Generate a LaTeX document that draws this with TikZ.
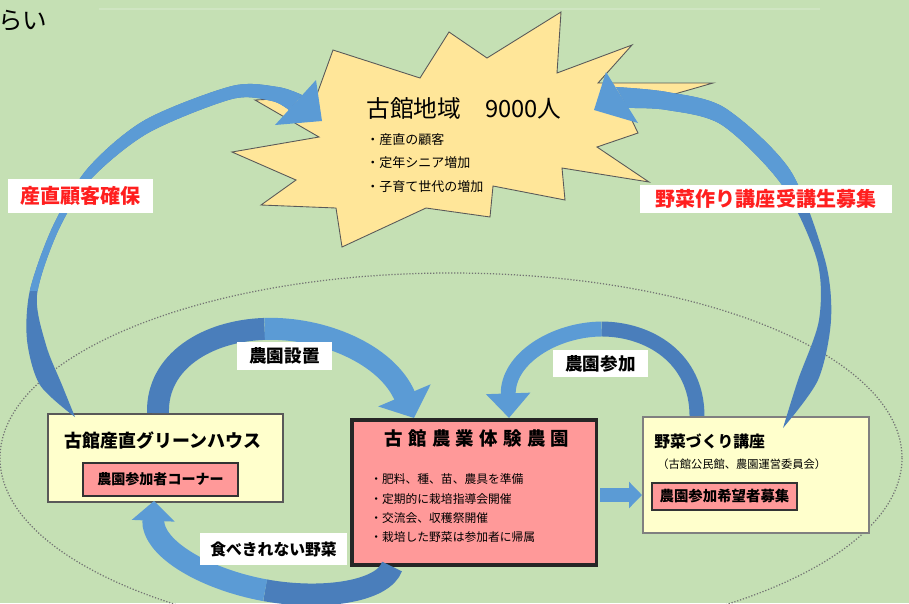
\documentclass[tikz,border=0pt]{standalone}
\usepackage{fontspec}
\setmainfont{Noto Sans CJK JP}
\usetikzlibrary{arrows.meta,calc}
\definecolor{bg}{HTML}{C5E0B4}
\definecolor{starfill}{HTML}{FFE699}
\definecolor{arrl}{HTML}{5B9BD5}
\definecolor{arrd}{HTML}{4A7EBB}
\definecolor{boxy}{HTML}{FFFFCC}
\definecolor{boxr}{HTML}{FF9999}
\definecolor{lblred}{HTML}{FF1F1F}
\newcommand\leftarcshape[1]{\fill[#1] plot[smooth] coordinates {(302,95) (278,87) (232,86) (145,120) (88,168) (53,226) (30,290) (27,340) (40,385) (75,417)} -- plot[smooth] coordinates {(75,417) (62,385) (46,345) (37,295) (58,231) (90,180) (148,133) (232,99) (272,101) (289,110)} -- cycle;}
\newcommand\rightarcshape[1]{\fill[#1] plot[smooth] coordinates {(616,87) (667,92) (725,108) (790,170) (825,260) (831,320) (818,380) (783,428)} -- plot[smooth] coordinates {(783,428) (798,380) (819,320) (817,260) (782,185) (722,125) (667,110) (628,108)} -- cycle;}
\newcommand\fs[1]{\fontsize{#1}{#1}\selectfont}
\begin{document}
\begin{tikzpicture}[x=0.02cm,y=-0.02cm,
  ybox/.style={draw=black!65, line width=1.1pt, fill=boxy, inner sep=0pt, anchor=north west},
  rbox/.style={draw=black!80, line width=1.1pt, fill=boxr, inner sep=0pt},
  lbl/.style={fill=white, inner sep=0pt},
  txt/.style={inner sep=0pt},
]
\useasboundingbox (0,0) rectangle (909,603);
\fill[bg] (0,0) rectangle (909,603);
\clip (0,0) rectangle (909,603);
\draw[bg!82!white, line width=0.6pt] (99,9) -- (820,9);
\node[txt, anchor=west, font=\fs{14}] (rai) at (-2,21) {らい};

% outer dotted ellipse
\draw[black!55, densely dotted, line width=0.7pt] (451,458) ellipse [x radius=451, y radius=185];

% starburst
\draw[draw=black!65, line width=0.5pt, fill=starfill, line join=miter]
 (561,12) -- (557,73) -- (632,45) -- (598,83) -- (713,83) -- (626,108) -- (638,133) -- (597,147) -- (649,182) -- (562,168) -- (565,200) -- (493,186) -- (490,217) -- (426,208) -- (342,247) -- (336,208) -- (261,205) -- (296,180) -- (232,152) -- (319,137) -- (255,100) -- (316,97) -- (333,50) -- (420,78) -- (449,32) -- (487,58) -- cycle;
\node[txt, font=\fs{13.5}] (sttl) at (464,108) {古館地域　9000人};
\node[txt, anchor=west, font=\fs{7.4}] (sb1) at (366,140) {・産直の顧客};
\node[txt, anchor=west, font=\fs{7.4}] (sb2) at (366,163) {・定年シニア増加};
\node[txt, anchor=west, font=\fs{7.4}] (sb3) at (366,187) {・子育て世代の増加};

% left box
\node[ybox, minimum width=4.7cm, minimum height=1.76cm] (gh) at (47,413) {};
\node[txt, font=\fs{10.2}\bfseries] (ghT) at (163,441) {古館産直グリーンハウス};
\node[rbox, minimum width=3.1cm, minimum height=0.66cm, font=\fs{8}\bfseries] (ghC) at (160.5,479.5) {農園参加者コーナー};

% center box
\node[draw=black!85, line width=2pt, fill=boxr, minimum width=4.9cm, minimum height=2.9cm, anchor=north west, inner sep=0pt] (farm) at (350,418) {};
\node[txt, font=\fs{10.5}\bfseries] (farmT) at (477,438) {古\hspace{3pt}館\hspace{3pt}農\hspace{3pt}業\hspace{3pt}体\hspace{3pt}験\hspace{3pt}農\hspace{3pt}園};
\node[txt, anchor=west, font=\fs{6.7}] (fb1) at (370,479) {・肥料、種、苗、農具を準備};
\node[txt, anchor=west, font=\fs{6.7}] (fb2) at (370,499) {・定期的に栽培指導会開催};
\node[txt, anchor=west, font=\fs{6.7}] (fb3) at (370,518) {・交流会、収穫祭開催};
\node[txt, anchor=west, font=\fs{6.7}] (fb4) at (370,537) {・栽培した野菜は参加者に帰属};

% right box
\node[ybox, draw=black!50, minimum width=4.52cm, minimum height=2.32cm] (rb) at (642,416) {};
\node[txt, anchor=west, font=\fs{9}\bfseries] (rbT) at (654,441) {野菜づくり講座};
\node[txt, anchor=west, font=\fs{6.4}] (rbS) at (657,464) {（古館公民館、農園運営委員会）};
\node[rbox, minimum width=2.9cm, minimum height=0.54cm, font=\fs{8.2}\bfseries] (rbC) at (724.5,496.5) {農園参加希望者募集};

% big left arc
\leftarcshape{arrd}
\begin{scope}\clip (0,0) rectangle (909,290); \leftarcshape{arrl} \end{scope}
\fill[arrl] (316,80) -- (322,121) -- (275,125) -- cycle;
% big right arc
\rightarcshape{arrd}
\begin{scope}\clip (0,0) rectangle (909,200); \rightarcshape{arrl} \end{scope}
\fill[arrl] (606,72) -- (594,110) -- (638,123) -- cycle;

% curved arrows between boxes
\coordinate (s1) at ($(gh.north west)+(111,0)$);
\coordinate (e1) at ($(farm.north west)+(64,0)$);
\draw[line width=12.5pt, arrd] (s1) .. controls (156.5,361.5) and (207,330.75) .. (264.6,328.9);
\draw[line width=12.5pt, arrl, -{Triangle[width=31.7pt,length=14pt]}] (264.6,328.9) .. controls (322.25,327) and (387,354) .. (e1);

\coordinate (s2) at ($(rb.north west)+(55,0)$);
\coordinate (e2) at ($(farm.north west)+(159,0)$);
\draw[line width=8.5pt, arrd] (s2) .. controls (697,358) and (649,329) .. (601.5,329);
\draw[line width=8.5pt, arrl, -{Triangle[width=24.4pt,length=14pt]}] (601.5,329) .. controls (554,329.5) and (507,359) .. (e2);

\coordinate (s3) at ($(farm.south west)+(42,0)$);
\coordinate (e3) at ($(gh.south west)+(107,-2)$);
\draw[line width=12.5pt, arrd] (s3) .. controls (383.5,591.5) and (323,600.75) .. (265.1,590.25);
\draw[line width=12.5pt, arrl, -{Triangle[width=23.8pt,length=11.3pt]}] (265.1,590.25) .. controls (207.25,579.75) and (152,549.5) .. (e3);

\coordinate (ys) at (0,495);
\draw[line width=8.5pt, arrl, -{Triangle[width=14.7pt,length=7.4pt]}] ($(farm.east |- ys)+(2,0)$) -- (rb.west |- ys);

% labels
\node[lbl, text=lblred, minimum width=2.9cm, minimum height=0.68cm, font=\fs{11.4}\bfseries] (L1) at (80.5,196) {産直顧客確保};
\node[lbl, text=lblred, minimum width=5.04cm, minimum height=0.56cm, font=\fs{11.4}\bfseries] (L2) at (766,199) {野菜作り講座受講生募集};
\node[lbl, minimum width=1.9cm, minimum height=0.56cm, font=\fs{10}\bfseries] (L3) at (284.5,356) {農園設置};
\node[lbl, minimum width=1.9cm, minimum height=0.54cm, font=\fs{10}\bfseries] (L4) at (600.5,363.5) {農園参加};
\node[lbl, minimum width=2.94cm, minimum height=0.64cm, font=\fs{9}\bfseries] (L5) at (273.5,549) {食べきれない野菜};
\end{tikzpicture}
\end{document}
